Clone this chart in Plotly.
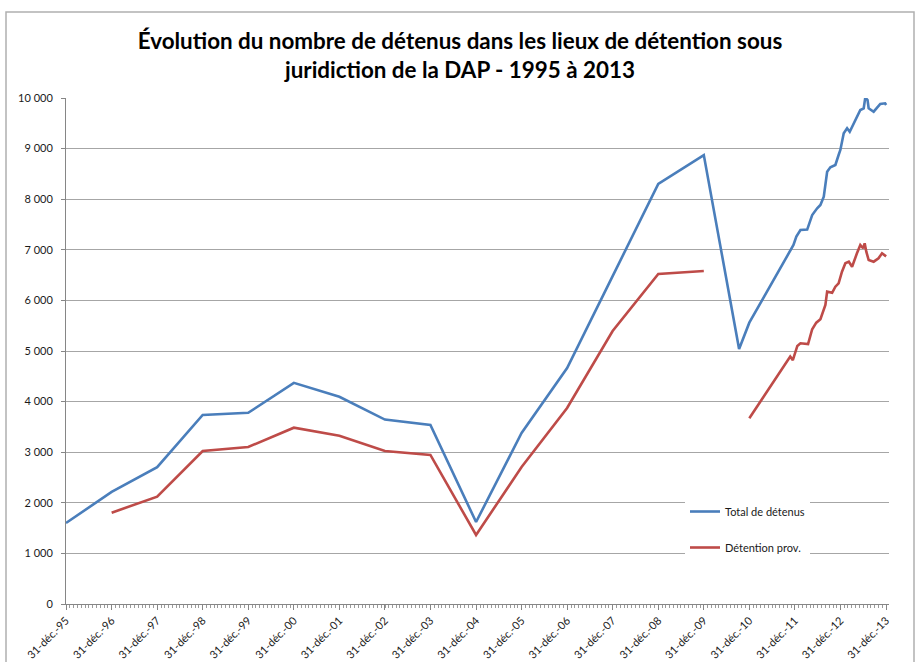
import plotly.graph_objects as go

# ---- data ----
total_dates = [
    "1995-12-31", "1996-12-31", "1997-12-31", "1998-12-31", "1999-12-31",
    "2000-12-31", "2001-12-31", "2002-12-31", "2003-12-31", "2004-12-31",
    "2005-12-31", "2006-12-31", "2007-12-31", "2008-12-31", "2009-12-31",
    "2010-10-10", "2010-12-31", "2011-11-24", "2011-12-20", "2012-01-12",
    "2012-02-14", "2012-04-08", "2012-04-20", "2012-05-18", "2012-06-27",
    "2012-07-23", "2012-08-19", "2012-09-15", "2012-10-11", "2012-11-20",
    "2012-12-16", "2012-12-30", "2013-01-26", "2013-02-22", "2013-03-15",
    "2013-04-11", "2013-05-12", "2013-06-08", "2013-07-05", "2013-07-18",
    "2013-08-05", "2013-08-14", "2013-09-23", "2013-10-20", "2013-11-15",
    "2013-12-24", "2014-01-01",
]
total_values = [
    1600, 2215, 2705, 3735, 3778,
    4370, 4095, 3645, 3540, 1620,
    3380, 4664, 6480, 8300, 8873,
    5040, 5560, 6996, 7095, 7260,
    7391, 7400, 7490, 7688, 7820,
    7885, 8049, 8543, 8630, 8676,
    8874, 8972, 9302, 9401, 9334,
    9466, 9599, 9763, 9796, 10010,
    9960, 9796, 9729, 9816, 9881,
    9895, 9862,
]

prov_dates = [
    "1996-12-31", "1997-12-31", "1998-12-31", "1999-12-31", "2000-12-31",
    "2001-12-31", "2002-12-31", "2003-12-31", "2004-12-31", "2005-12-31",
    "2006-12-31", "2007-12-31", "2008-12-31", "2009-12-31", "2010-06-30",
    "2010-12-31", "2011-11-24", "2011-12-15", "2012-01-20", "2012-02-14",
    "2012-04-15", "2012-05-18", "2012-06-20", "2012-07-23", "2012-09-01",
    "2012-09-15", "2012-10-25", "2012-11-20", "2012-12-16", "2013-01-12",
    "2013-02-08", "2013-03-08", "2013-04-03", "2013-05-12", "2013-06-08",
    "2013-06-30", "2013-07-13", "2013-07-26", "2013-08-14", "2013-09-23",
    "2013-11-01", "2013-11-29", "2013-12-24", "2014-01-01",
]
prov_values = [
    1805, 2121, 3024, 3103, 3484,
    3326, 3024, 2945, 1364, 2707,
    3874, 5395, 6522, 6581, None,
    3670, 4890, 4820, 5100, 5152,
    5138, 5430, 5560, 5630, 5909,
    6172, 6150, 6271, 6338, 6567,
    6733, 6765, 6666, 6931, 7095,
    7030, 7128, 6963, 6798, 6765,
    6831, 6931, 6897, 6870,
]

tick_dates = [
    "1995-12-31", "1996-12-31", "1997-12-31", "1998-12-31", "1999-12-31",
    "2000-12-31", "2001-12-31", "2002-12-31", "2003-12-31", "2004-12-31",
    "2005-12-31", "2006-12-31", "2007-12-31", "2008-12-31", "2009-12-31",
    "2010-12-31", "2011-12-31", "2012-12-31", "2013-12-31",
]
tick_labels = [
    "31-déc.-95", "31-déc.-96", "31-déc.-97", "31-déc.-98", "31-déc.-99",
    "31-déc.-00", "31-déc.-01", "31-déc.-02", "31-déc.-03", "31-déc.-04",
    "31-déc.-05", "31-déc.-06", "31-déc.-07", "31-déc.-08", "31-déc.-09",
    "31-déc.-10", "31-déc.-11", "31-déc.-12", "31-déc.-13",
]

series_names = ["Total de détenus", "Détention prov."]
title_text = ("Évolution du nombre de détenus dans les lieux de détention sous"
              "<br>juridiction de la DAP - 1995 à 2013")

# ---- figure ----
W, H = 920, 662
ml, mr, mt, mb = 66, 31, 98, 58
pw, ph = W - ml - mr, H - mt - mb

def px_x(p):
    return (p - ml) / pw

def px_y(p):
    return (H - mb - p) / ph

fig = go.Figure()
fig.add_trace(go.Scatter(
    x=total_dates, y=total_values, mode="lines", name=series_names[0],
    line=dict(color="#4A7EBB", width=2.6), legendgroup="a",
))
fig.add_trace(go.Scatter(
    x=prov_dates, y=prov_values, mode="lines", name=series_names[1],
    line=dict(color="#BE4B48", width=2.6), connectgaps=False, legendgroup="b",
))

font_family = "Lato, 'Open Sans', sans-serif"

fig.update_layout(
    width=W, height=H,
    margin=dict(l=ml, r=mr, t=mt, b=mb, autoexpand=False),
    paper_bgcolor="white", plot_bgcolor="white",
    separators=", ",
    font=dict(family=font_family, size=11, color="#1a1a1a"),
    title=dict(
        text=title_text, x=0.5, xanchor="center", xref="container",
        y=1 - 49 / H, yanchor="middle",
        font=dict(family=font_family, size=22.4, color="#000000", weight="bold"),
    ),
    showlegend=True,
    legend=dict(
        x=px_x(685), y=px_y(497), xanchor="left", yanchor="top",
        bgcolor="white", borderwidth=0, tracegroupgap=17,
        font=dict(family=font_family, size=11, color="#1a1a1a"),
        traceorder="grouped",
    ),
    xaxis=dict(
        type="date",
        range=["1995-12-31", "2014-01-24"],
        tickmode="array", tickvals=tick_dates, ticktext=tick_labels,
        tickangle=-45, ticks="outside", ticklen=5, tickcolor="#868686",
        showline=True, linecolor="#868686", linewidth=1,
        showgrid=False, zeroline=False,
        minor=dict(ticks="outside", ticklen=3, tickcolor="#9a9a9a",
                   dtick="M1", tick0="1996-01-01", showgrid=False),
        tickfont=dict(size=11, color="#1a1a1a"),
        automargin=False,
    ),
    yaxis=dict(
        range=[0, 10000], dtick=1000, tick0=0,
        tickformat=",d",
        ticks="outside", ticklen=4, tickcolor="#868686",
        ticklabelstandoff=6,
        showline=True, linecolor="#868686", linewidth=1,
        showgrid=True, gridcolor="#a6a6a6", gridwidth=1,
        zeroline=False,
        tickfont=dict(size=11, color="#1a1a1a"),
        automargin=False,
    ),
    shapes=[dict(
        type="rect", xref="paper", yref="paper",
        x0=px_x(6), x1=px_x(914), y0=px_y(672), y1=px_y(12),
        line=dict(color="#b0b0b0", width=1.5), fillcolor="rgba(0,0,0,0)",
        layer="below",
    )],
)

fig.write_html(
    "out.html",
    config={"displayModeBar": False},
    post_script="document.body.style.margin='0';document.body.style.overflow='hidden';",
)
